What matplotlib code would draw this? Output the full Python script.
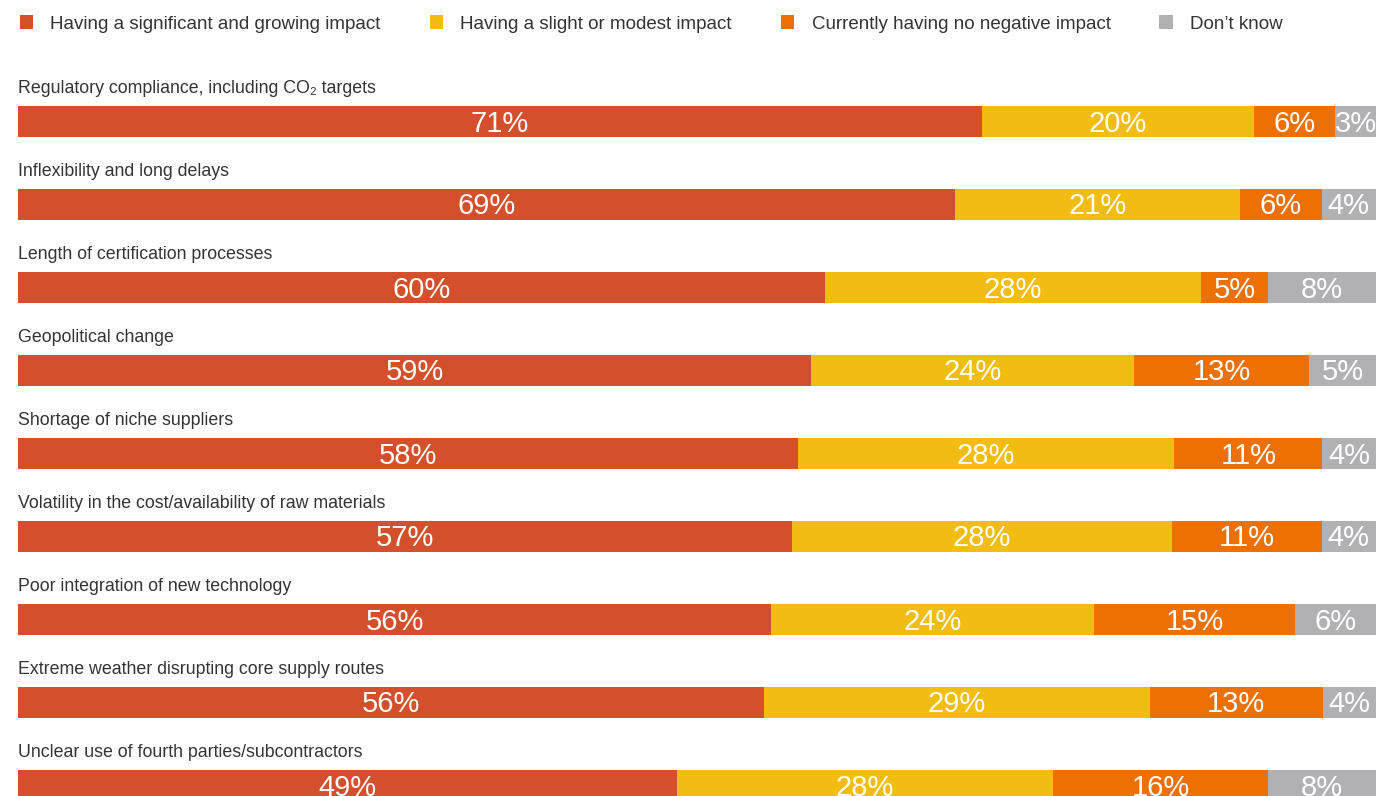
import matplotlib.pyplot as plt
from matplotlib.patches import Patch
from matplotlib import font_manager

# font: condensed where we can get it
names = {f.name for f in font_manager.fontManager.ttflist}
narrow = 'Liberation Sans Narrow' if 'Liberation Sans Narrow' in names else 'Liberation Sans'
plt.rcParams['font.family'] = [narrow, 'DejaVu Sans']

categories = [
    'Regulatory compliance, including CO\u2082 targets',
    'Inflexibility and long delays',
    'Length of certification processes',
    'Geopolitical change',
    'Shortage of niche suppliers',
    'Volatility in the cost/availability of raw materials',
    'Poor integration of new technology',
    'Extreme weather disrupting core supply routes',
    'Unclear use of fourth parties/subcontractors',
]
series_names = [
    'Having a significant and growing impact',
    'Having a slight or modest impact',
    'Currently having no negative impact',
    'Don\u2019t know',
]
significant = [71, 69, 60, 59, 58, 57, 56, 56, 49]
slight = [20, 21, 28, 24, 28, 28, 24, 29, 28]
no_impact = [6, 6, 5, 13, 11, 11, 15, 13, 16]
dont_know = [3, 4, 8, 5, 4, 4, 6, 4, 8]
colors = ['#D44F2B', '#F2BD10', '#EC7004', '#B1B1B3']

series = [significant, slight, no_impact, dont_know]

W, H = 1376, 796
fig = plt.figure(figsize=(W / 100, H / 100), dpi=100)
ax = fig.add_axes([18 / W, 0, 1 - 18 / W, 1])
ax.axis('off')

row_px = 83.0
first_center = 121.5
ax.set_ylim((H - first_center) / row_px, -first_center / row_px)
ax.set_xlim(0, 100)

bar_h = 31 / row_px
for i, cat in enumerate(categories):
    total = sum(s[i] for s in series)
    left = 0
    for s, c in zip(series, colors):
        w = s[i] / total * 100
        ax.barh(i, w, left=left, height=bar_h, color=c, linewidth=0)
        ax.text(left + w / 2, i + 10 / row_px, f'{s[i]}%', ha='center', va='baseline',
                color='white', fontsize=21, family=['Liberation Sans', 'DejaVu Sans'])
        left += w
    ax.text(0, i - 28.5 / row_px, cat, ha='left', va='baseline', fontsize=12.8, color='#333333')

handles = [Patch(facecolor=c, edgecolor='none') for c in colors]
fig.legend(handles, series_names, loc='center left', bbox_to_anchor=(12 / W, 1 - 24 / H),
           ncol=4, frameon=False, fontsize=13.5, handlelength=0.7, handleheight=0.7,
           handletextpad=0.95, columnspacing=2.6, labelcolor='#333333', borderaxespad=0)

fig.savefig('out.png', dpi=100)
